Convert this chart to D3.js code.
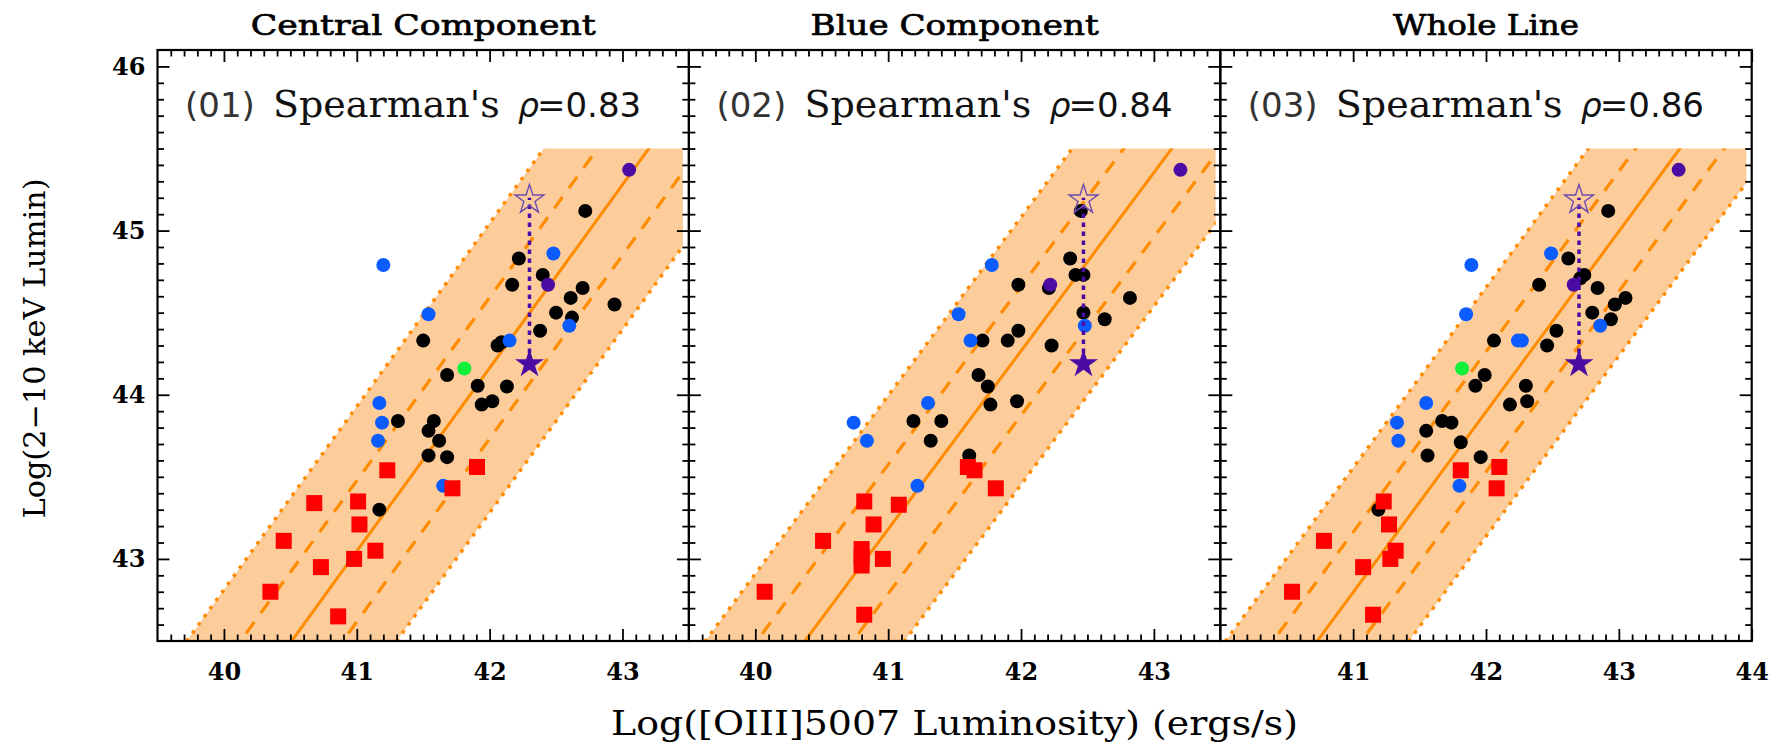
<!DOCTYPE html>
<html>
<head>
<meta charset="utf-8">
<script src="https://cdn.jsdelivr.net/npm/d3@7"></script>
<style>
  body { margin: 0; background: #fff; }
  svg { display: block; }
</style>
</head>
<body>
<script>
// ---- panel labels ----
const titles = ["Central Component", "Blue Component", "Whole Line"];
const panelIds = ["(01)", "(02)", "(03)"];
const rhoValues = ["0.83", "0.84", "0.86"];

// ---- axes ----
const xDomains = [[39.5, 43.5], [39.5, 43.5], [40, 44]];
const xTickLabels = [[40, 41, 42, 43], [40, 41, 42, 43], [40, 41, 42, 43, 44]];
const yTickLabels = [43, 44, 45, 46];
const yDomain = [42.5, 46.1];

// ---- regression band: log L[OIII] of the fit at log Lx = 42.5, slope, 1-sigma and 2-sigma offsets ----
const fitBase = [40.51, 40.373, 40.73];
const fitSlope = [1.116, 1.086, 1.099];
const fitSigma1 = [0.385, 0.362, 0.333];
const fitSigma2 = [0.79, 0.75, 0.69];
const bandTop = 45.5;
const bandRight = [43.455, 43.465, 43.96];

// ---- sources: [log L[OIII] 5007, log L(2-10 keV)] ----
const black1 = [[42.72,45.12],[42.22,44.83],[42.40,44.73],[42.17,44.67],[42.70,44.65],[42.61,44.59],[42.94,44.55],[42.50,44.50],[42.62,44.47],[42.38,44.39],[41.50,44.33],[42.06,44.30],[42.09,44.32],[41.68,44.12],[41.91,44.055],[42.13,44.05],[41.94,43.94],[42.02,43.96],[41.31,43.84],[41.58,43.84],[41.54,43.78],[41.62,43.72],[41.54,43.63],[41.68,43.62],[41.17,43.30]];
const blue1 = [[41.20,44.79],[42.48,44.86],[41.54,44.49],[42.60,44.42],[42.15,44.33],[41.17,43.95],[41.19,43.83],[41.16,43.72],[41.65,43.445]];
const purple1 = [[43.05,45.37],[42.44,44.67]];
const green1 = [[41.81,44.16]];
const red1 = [[41.23,43.54],[41.905,43.56],[41.72,43.43],[40.68,43.34],[41.01,43.35],[41.02,43.21],[40.45,43.11],[41.14,43.05],[40.98,43.0],[40.73,42.95],[40.35,42.80],[40.86,42.65]];

const black2 = [[42.45,45.12],[42.37,44.83],[42.41,44.73],[42.47,44.73],[41.98,44.67],[42.21,44.65],[42.82,44.59],[42.47,44.50],[42.63,44.46],[41.98,44.39],[41.71,44.33],[41.90,44.33],[42.23,44.30],[41.68,44.12],[41.75,44.05],[41.77,43.94],[41.97,43.96],[41.19,43.84],[41.40,43.84],[41.32,43.72],[41.61,43.63]];
const blue2 = [[41.78,44.79],[41.53,44.49],[42.48,44.42],[41.62,44.33],[41.30,43.95],[40.74,43.83],[40.84,43.72],[41.22,43.445]];
const purple2 = [[43.20,45.37],[42.22,44.67]];
const green2 = [];
const red2 = [[41.60,43.56],[41.65,43.54],[41.81,43.43],[40.82,43.35],[41.08,43.33],[40.89,43.21],[40.51,43.11],[40.80,43.06],[40.80,43.01],[40.80,42.96],[40.96,43.0],[40.07,42.80],[40.82,42.66]];

const black3 = [[42.92,45.12],[42.62,44.83],[42.74,44.73],[42.71,44.71],[42.40,44.67],[42.84,44.65],[43.05,44.59],[42.97,44.55],[42.80,44.50],[42.94,44.46],[42.53,44.39],[42.06,44.33],[42.46,44.30],[41.99,44.12],[41.92,44.055],[42.30,44.055],[42.18,43.94],[42.31,43.96],[41.67,43.84],[41.74,43.83],[41.55,43.78],[41.81,43.71],[41.56,43.63],[41.96,43.62],[41.19,43.30]];
const blue3 = [[41.89,44.79],[42.49,44.86],[41.85,44.49],[42.86,44.42],[42.24,44.33],[42.27,44.33],[41.55,43.95],[41.33,43.83],[41.34,43.72],[41.80,43.445]];
const purple3 = [[43.45,45.37],[42.66,44.67]];
const green3 = [[41.82,44.16]];
const red3 = [[41.81,43.54],[42.10,43.56],[42.08,43.43],[41.23,43.35],[41.27,43.21],[40.78,43.11],[41.32,43.05],[41.28,43.0],[41.075,42.95],[40.54,42.80],[41.15,42.66]];

// the starred source: log L[OIII] per panel, observed and corrected log Lx
const starX = [42.30, 42.47, 42.70];
const starObserved = 44.2;
const starCorrected = 45.2;

const panelSources = [
  { black: black1, blue: blue1, purple: purple1, green: green1, red: red1 },
  { black: black2, blue: blue2, purple: purple2, green: green2, red: red2 },
  { black: black3, blue: blue3, purple: purple3, green: green3, red: red3 }
];

// ---- layout ----
const W = 1778, H = 747;
const plotLeft = 157.5, panelW = 531.4, plotTop = 50, plotBottom = 641;
const colors = { black: "#000000", blue: "#0b5cff", purple: "#4b0ca3", green: "#10f03a", red: "#ff0000" };
const bandFill = "#fdcc9b", bandLine = "#ff8c00";
const serif = "'DejaVu Serif', serif";
const sans = "'DejaVu Sans', sans-serif";

const svg = d3.select("body").append("svg").attr("width", W).attr("height", H);
const defs = svg.append("defs");
const y = d3.scaleLinear().domain(yDomain).range([plotBottom, plotTop]);

function ticksBetween(lo, hi, step) {
  return d3.range(Math.round(lo / step), Math.round(hi / step) + 1)
    .map(k => +(k * step).toFixed(3))
    .filter(v => v > lo + 1e-6 && v < hi - 1e-6);
}

panelSources.forEach((src, i) => {
  const left = plotLeft + i * panelW;
  const x = d3.scaleLinear().domain(xDomains[i]).range([left, left + panelW]);
  const g = svg.append("g");

  // band, clipped to its top edge and right end
  const clipId = "bandclip" + i;
  defs.append("clipPath").attr("id", clipId).append("rect")
    .attr("x", x(xDomains[i][0]))
    .attr("y", y(bandTop))
    .attr("width", x(bandRight[i]) - x(xDomains[i][0]))
    .attr("height", y(yDomain[0]) - y(bandTop));
  const band = g.append("g").attr("clip-path", `url(#${clipId})`);
  const fitX = (ly, off) => fitBase[i] + (ly - 42.5) / fitSlope[i] + off;
  const lo = 42.3, hi = 45.7;
  const seg = off => [[fitX(lo, off), lo], [fitX(hi, off), hi]];
  const line = d3.line().x(d => x(d[0])).y(d => y(d[1]));
  const s1 = fitSigma1[i], s2 = fitSigma2[i];
  band.append("path")
    .attr("d", line([[fitX(lo, -s2), lo], [fitX(hi, -s2), hi], [fitX(hi, s2), hi], [fitX(lo, s2), lo]]) + "Z")
    .attr("fill", bandFill);
  [[-s2, "3.5,6.5", 3.5], [s2, "3.5,6.5", 3.5], [-s1, "14,11", 3.2], [s1, "14,11", 3.2], [0, null, 3]]
    .forEach(([off, dash, w]) => {
      band.append("path").attr("d", line(seg(off)))
        .attr("fill", "none").attr("stroke", bandLine).attr("stroke-width", w)
        .attr("stroke-dasharray", dash);
    });

  // sources
  const pts = g.append("g");
  ["black", "blue", "purple", "green"].forEach(k => {
    pts.selectAll(null).data(src[k]).join("circle")
      .attr("cx", d => x(d[0])).attr("cy", d => y(d[1])).attr("r", 7)
      .attr("fill", colors[k]);
  });
  const sq = 16;
  pts.selectAll(null).data(src.red).join("rect")
    .attr("x", d => x(d[0]) - sq / 2).attr("y", d => y(d[1]) - sq / 2)
    .attr("width", sq).attr("height", sq).attr("fill", colors.red);

  // starred source: observed (filled) and corrected (open), joined by a dotted line
  g.append("line")
    .attr("x1", x(starX[i])).attr("x2", x(starX[i]))
    .attr("y1", y(starObserved)).attr("y2", y(starCorrected))
    .attr("stroke", colors.purple).attr("stroke-width", 3.5).attr("stroke-dasharray", "4.5,4.5");
  const star = d3.symbol().type(d3.symbolStar).size(260);
  g.append("path").attr("d", star())
    .attr("transform", `translate(${x(starX[i])},${y(starObserved) + 2})`)
    .attr("fill", colors.purple);
  g.append("path").attr("d", star())
    .attr("transform", `translate(${x(starX[i])},${y(starCorrected) + 2})`)
    .attr("fill", "none").attr("stroke", "#6c4bb0").attr("stroke-width", 1.4);

  // ticks on all four sides, pointing inward
  const xMajor = d3.range(Math.ceil(xDomains[i][0]), Math.floor(xDomains[i][1]) + 1)
    .filter(v => v > xDomains[i][0] && v < xDomains[i][1] + 1e-6);
  const xMinor = ticksBetween(xDomains[i][0], xDomains[i][1], 0.1).filter(v => Math.abs(v - Math.round(v)) > 1e-6);
  const yMajor = yTickLabels;
  const yMinor = ticksBetween(yDomain[0], yDomain[1], 0.1).filter(v => Math.abs(v - Math.round(v)) > 1e-6);

  const axes = g.append("g");
  const addAxis = (gen, tr) => {
    const a = axes.append("g").attr("transform", tr).call(gen);
    a.select(".domain").remove();
    a.selectAll("line").attr("stroke", "#000").attr("stroke-width", 1.8);
    return a;
  };
  addAxis(d3.axisBottom(x).tickValues(xMinor).tickSize(-6.5).tickFormat(""), `translate(0,${plotBottom})`);
  addAxis(d3.axisTop(x).tickValues(xMinor).tickSize(-6.5).tickFormat(""), `translate(0,${plotTop})`);
  addAxis(d3.axisTop(x).tickValues(xMajor).tickSize(-12).tickFormat(""), `translate(0,${plotTop})`);
  const xb = addAxis(d3.axisBottom(x).tickValues(xMajor).tickSize(-12).tickPadding(22)
    .tickFormat(v => xTickLabels[i].includes(v) ? String(v) : ""), `translate(0,${plotBottom})`);
  xb.selectAll("text").attr("font-family", serif).attr("font-weight", "bold")
    .attr("font-size", 24).attr("fill", "#000");

  addAxis(d3.axisRight(y).tickValues(yMinor).tickSize(-6.5).tickFormat(""), `translate(${left + panelW},0)`);
  addAxis(d3.axisRight(y).tickValues(yMajor).tickSize(-12).tickFormat(""), `translate(${left + panelW},0)`);
  addAxis(d3.axisLeft(y).tickValues(yMinor).tickSize(-6.5).tickFormat(""), `translate(${left},0)`);
  const yl = addAxis(d3.axisLeft(y).tickValues(yMajor).tickSize(-12).tickPadding(12)
    .tickFormat(v => i === 0 ? String(v) : ""), `translate(${left},0)`);
  yl.selectAll("text").attr("font-family", serif).attr("font-weight", "bold")
    .attr("font-size", 24).attr("fill", "#000");

  // frame
  g.append("rect").attr("x", left).attr("y", plotTop).attr("width", panelW)
    .attr("height", plotBottom - plotTop).attr("fill", "none")
    .attr("stroke", "#000").attr("stroke-width", 2.2);

  // panel title
  svg.append("text").attr("x", left + panelW / 2).attr("y", 35)
    .attr("text-anchor", "middle").attr("font-family", serif)
    .attr("font-size", 28).attr("stroke", "#000").attr("stroke-width", 0.7)
    .attr("textLength", [345, 288, 186][i]).attr("lengthAdjust", "spacingAndGlyphs")
    .text(titles[i]);

  // correlation annotation
  const ann = svg.append("text").attr("y", 117).attr("fill", "#111");
  const ax = left + 27.5;
  ann.append("tspan").attr("x", ax).attr("font-family", sans).attr("font-size", 34)
    .attr("fill", "#333").text(panelIds[i]);
  ann.append("tspan").attr("x", ax + 88).attr("font-family", serif).attr("font-size", 38)
    .text("Spearman's");
  ann.append("tspan").attr("x", ax + 333).attr("font-family", sans).attr("font-style", "italic")
    .attr("font-size", 33).text("ρ");
  ann.append("tspan").attr("x", ax + 352).attr("font-family", sans).attr("font-size", 34)
    .text("=" + rhoValues[i]);
});

// axis titles
svg.append("text").attr("x", (plotLeft + plotLeft + 3 * panelW) / 2).attr("y", 735)
  .attr("text-anchor", "middle").attr("font-family", serif).attr("font-size", 34)
  .attr("textLength", 687).attr("lengthAdjust", "spacingAndGlyphs")
  .text("Log([OIII]5007 Luminosity) (ergs/s)");
svg.append("text").attr("transform", `translate(45,${(plotTop + plotBottom) / 2 + 3}) rotate(-90)`)
  .attr("text-anchor", "middle").attr("font-family", serif).attr("font-size", 30)
  .attr("textLength", 340).attr("lengthAdjust", "spacingAndGlyphs")
  .text("Log(2\u221210 keV Lumin)");
</script>
</body>
</html>
